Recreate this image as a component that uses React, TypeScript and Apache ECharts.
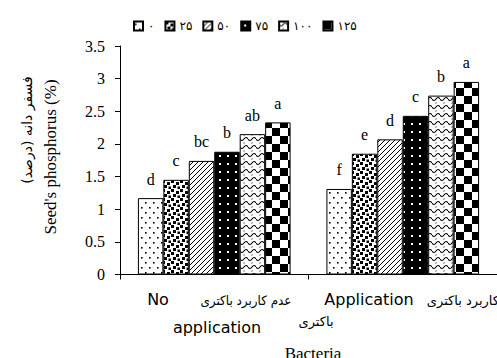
import React, { useEffect, useRef } from "react";
import * as echarts from "echarts";

const categories = ["No application", "Application"];
const seriesNames = ["۰", "۲۵", "۵۰", "۷۵", "۱۰۰", "۱۲۵"];
const noApplication = [1.17, 1.45, 1.74, 1.88, 2.15, 2.33];
const application = [1.31, 1.85, 2.07, 2.43, 2.74, 2.95];
const lettersNoApplication = ["d", "c", "bc", "b", "ab", "a"];
const lettersApplication = ["f", "e", "d", "c", "b", "a"];
const yMin = 0;
const yMax = 3.5;
const yStep = 0.5;

function makeCanvas(w: number, h: number, bg: string) {
  const c = document.createElement("canvas");
  c.width = w;
  c.height = h;
  const ctx = c.getContext("2d")!;
  ctx.fillStyle = bg;
  ctx.fillRect(0, 0, w, h);
  return { c, ctx };
}

function makePattern(kind: number): any {
  if (kind === 0) {
    const { c, ctx } = makeCanvas(8, 10, "#fff");
    ctx.fillStyle = "#000";
    ctx.fillRect(1, 2, 1.6, 1.6);
    ctx.fillRect(5, 7, 1.6, 1.6);
    return { image: c, repeat: "repeat" };
  }
  if (kind === 1) {
    const { c, ctx } = makeCanvas(9, 9, "#fff");
    ctx.fillStyle = "#000";
    ctx.fillRect(0, 0, 3, 3);
    ctx.fillRect(5, 2, 3, 3);
    ctx.fillRect(2, 5, 3, 3);
    ctx.fillRect(6.5, 6.5, 2.5, 2.5);
    return { image: c, repeat: "repeat" };
  }
  if (kind === 2) {
    const { c, ctx } = makeCanvas(5, 5, "#fff");
    ctx.strokeStyle = "#000";
    ctx.lineWidth = 1;
    ctx.beginPath();
    ctx.moveTo(-1, 6);
    ctx.lineTo(6, -1);
    ctx.moveTo(-3, 3);
    ctx.lineTo(3, -3);
    ctx.moveTo(2, 8);
    ctx.lineTo(8, 2);
    ctx.stroke();
    return { image: c, repeat: "repeat" };
  }
  if (kind === 3) {
    const { c, ctx } = makeCanvas(8, 8, "#000");
    ctx.fillStyle = "#fff";
    ctx.fillRect(3, 3, 2, 2);
    return { image: c, repeat: "repeat" };
  }
  if (kind === 4) {
    const { c, ctx } = makeCanvas(8, 8, "#fff");
    ctx.strokeStyle = "#000";
    ctx.lineWidth = 1.2;
    ctx.beginPath();
    ctx.moveTo(0, 3);
    ctx.quadraticCurveTo(2, 6, 4, 3);
    ctx.quadraticCurveTo(6, 0, 8, 3);
    ctx.stroke();
    ctx.fillStyle = "#000";
    ctx.fillRect(3.5, 6.5, 1, 1);
    return { image: c, repeat: "repeat" };
  }
  const { c, ctx } = makeCanvas(16, 16, "#fff");
  ctx.fillStyle = "#000";
  ctx.fillRect(0, 0, 8, 8);
  ctx.fillRect(8, 8, 8, 8);
  return { image: c, repeat: "repeat" };
}

const legendTextWidths = [14, 18, 24, 16, 38, 26];

function txt(text: string, x: number, y: number, font: string, size: number, align = "center", extra: any = {}) {
  return {
    type: "text",
    x,
    y,
    ...extra,
    style: {
      text,
      fontFamily: font,
      fontSize: size,
      fill: "#000",
      textAlign: align,
      textVerticalAlign: "middle",
    },
  };
}

export default function App() {
  const ref = useRef<HTMLDivElement>(null);
  useEffect(() => {
    if (!ref.current) return;
    const chart = echarts.init(ref.current, null, { renderer: "svg" });
    const series = seriesNames.map((name, i) => ({
      name,
      type: "bar",
      barGap: "0%",
      barCategoryGap: "19%",
      data: [noApplication[i], application[i]],
      itemStyle: {
        color: makePattern(i),
        borderColor: "#000",
        borderWidth: 1,
      },
      label: {
        show: true,
        position: "top",
        distance: 11,
        fontFamily: "Liberation Serif",
        fontSize: 16,
        color: "#000",
        formatter: (p: any) =>
          p.dataIndex === 0 ? lettersNoApplication[i] : lettersApplication[i],
      },
    }));
    const option: any = {
      animation: false,
      backgroundColor: "#fff",
      legend: {
        left: 128,
        top: 15,
        itemWidth: 9,
        itemHeight: 9,
        itemGap: 10,
        icon: "rect",
        textStyle: { fontFamily: "DejaVu Sans", fontSize: 12, color: "#000" },
        data: seriesNames.map((n, i) => ({
          name: n,
          textStyle: { width: legendTextWidths[i] },
        })),
      },
      grid: { left: 120, right: -9, top: 46, bottom: 83.5, containLabel: false },
      xAxis: {
        type: "category",
        data: categories,
        axisLine: { show: true, lineStyle: { color: "#000", width: 1 } },
        axisTick: { show: true, length: 5, lineStyle: { color: "#000" } },
        axisLabel: { show: false },
        splitLine: { show: false },
      },
      yAxis: {
        type: "value",
        min: yMin,
        max: yMax,
        interval: yStep,
        axisLine: { show: true, lineStyle: { color: "#000", width: 1 } },
        axisTick: { show: true, length: 5, lineStyle: { color: "#000" } },
        axisLabel: {
          margin: 15,
          fontFamily: "Liberation Serif",
          fontSize: 16,
          color: "#000",
        },
        splitLine: { show: false },
      },
      graphic: [
        txt("Seed's phosphorus (%)", 50, 157, "Liberation Serif", 17, "center", { rotation: Math.PI / 2 }),
        txt("فسفر دانه (درصد)", 27, 130, "DejaVu Sans", 14, "center", { rotation: Math.PI / 2 }),
        txt("No", 158, 299, "DejaVu Sans", 16),
        txt("عدم کاربرد باکتری", 246, 300, "DejaVu Sans", 13, "center", { scaleX: 0.92 }),
        txt("application", 217, 327, "DejaVu Sans", 16),
        txt("Application", 369, 299, "DejaVu Sans", 16),
        txt("کاربرد باکتری", 499, 300, "DejaVu Sans", 13, "right"),
        txt("باکتری", 316, 321, "DejaVu Sans", 13),
        txt("Bacteria", 313, 353, "Liberation Serif", 17),
      ],
      series,
    };
    chart.setOption(option);
    return () => chart.dispose();
  }, []);
  return (
    <div
      ref={ref}
      style={{ position: "fixed", left: 0, top: 0, width: 497, height: 358 }}
    />
  );
}
